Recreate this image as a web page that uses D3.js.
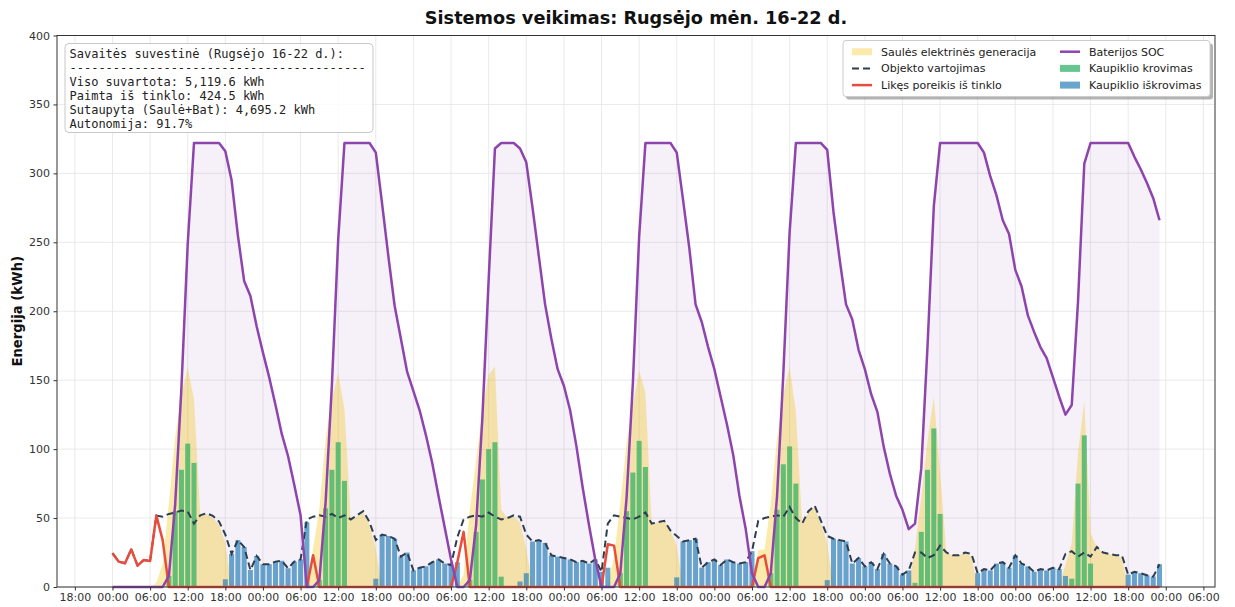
<!DOCTYPE html>
<html>
<head>
<meta charset="utf-8">
<script src="https://d3js.org/d3.v7.min.js"></script>
<style>
body { margin: 0; background: #fff; }
text { font-family: "DejaVu Sans", sans-serif; }
</style>
</head>
<body>
<div id="chart"></div>
<script>
// hourly values, 16-22 Sept (168 hours), one row per day
var consumption = [
  24.5, 18.4, 17.2, 27.3, 15.5, 19.6, 18.9, 51.8, 51, 53, 54, 55.5, 54.7, 46, 52, 53.5, 51.6, 47.5, 38, 24, 34, 29, 12.3, 22.5,
  16.5, 16.5, 18.4, 19, 13.6, 18.4, 20, 49, 51, 52, 51, 53, 50, 52, 49, 52, 55, 47, 34, 38, 37, 35, 22, 25,
  12, 14, 15, 18, 20, 17, 16, 36, 49, 51, 52, 51, 54, 51, 49, 50, 52, 51, 38, 33, 34, 32, 23, 22,
  21, 20, 18, 19, 17, 20, 11, 46, 52, 51, 50, 49, 51, 54, 46, 47, 48, 41, 37, 33, 34, 35, 14, 18,
  20, 16, 20, 18, 17, 18, 26, 48, 50, 51, 52, 51, 58, 50, 46, 55, 59, 48, 37, 35, 34, 33, 17, 21,
  15, 18, 13, 24, 17, 15, 9, 12, 25, 25, 21, 23, 30, 25, 23, 23, 25, 24, 10, 13, 12, 17, 18, 14,
  23, 17, 15, 11, 13, 12, 14, 13, 24, 26, 22, 25, 22, 29, 25, 24, 23, 23, 9, 11, 10, 8.5, 7.5, 16.5
];
var solar = [
  0, 0, 0, 0, 0, 0, 0, 3, 17, 61, 109, 140, 159, 136, 52, 53, 50, 45, 32, 0, 0, 0, 0, 0,
  0, 0, 0, 0, 0, 0, 0, 2, 28, 57, 108, 137, 155, 129, 49, 51, 54, 45, 28, 0, 0, 0, 0, 0,
  0, 0, 0, 0, 0, 0, 0, 0, 9, 56, 92, 129, 154, 160, 56, 50, 51, 47, 28, 0, 0, 0, 0, 0,
  0, 0, 0, 0, 0, 0, 0, 2, 22, 61, 105, 132, 157, 141, 46, 47, 48, 41, 30, 0, 0, 0, 0, 0,
  0, 0, 0, 0, 0, 0, 2, 27, 27, 61, 108, 140, 160, 127, 46, 54, 58, 46, 32, 0, 0, 0, 0, 0,
  0, 0, 0, 0, 0, 0, 0, 2, 28, 65, 106, 138, 83, 25, 23, 23, 25, 22, 0, 0, 0, 0, 0, 0,
  0, 0, 0, 0, 0, 0, 0, 2, 16, 32, 97, 135, 39, 29, 25, 24, 23, 21, 0, 0, 0, 0, 0, 0
];
var gridLeft = [
  24.5, 18.4, 17.2, 27.3, 15.5, 19.6, 18.9, 51.8, 34, 0, 0, 0, 0, 0, 0, 0, 0, 0, 0, 0, 0, 0, 0, 0,
  0, 0, 0, 0, 0, 0, 0, 0, 23, 0, 0, 0, 0, 0, 0, 0, 0, 0, 0, 0, 0, 0, 0, 0,
  0, 0, 0, 0, 0, 0, 0, 18, 40, 0, 0, 0, 0, 0, 0, 0, 0, 0, 0, 0, 0, 0, 0, 0,
  0, 0, 0, 0, 0, 0, 0, 31, 30, 0, 0, 0, 0, 0, 0, 0, 0, 0, 0, 0, 0, 0, 0, 0,
  0, 0, 0, 0, 0, 0, 0, 21, 23, 0, 0, 0, 0, 0, 0, 0, 0, 0, 0, 0, 0, 0, 0, 0,
  0, 0, 0, 0, 0, 0, 0, 0, 0, 0, 0, 0, 0, 0, 0, 0, 0, 0, 0, 0, 0, 0, 0, 0,
  0, 0, 0, 0, 0, 0, 0, 0, 0, 0, 0, 0, 0, 0, 0, 0, 0, 0, 0, 0, 0, 0, 0, 0
];
var soc = [
  0, 0, 0, 0, 0, 0, 0, 0, 0, 8, 60, 145, 249, 322, 322, 322, 322, 322, 316, 295, 255, 222, 211, 189,
  170, 152, 132, 111, 95, 74, 52, 0, 0, 5, 62, 147, 252, 322, 322, 322, 322, 322, 315, 278, 240, 204, 180, 156,
  142, 128, 110, 90, 66, 43, 20, 0, 0, 5, 45, 123, 223, 318, 322, 322, 322, 318, 308, 275, 240, 205, 180, 158,
  146, 128, 102, 72, 45, 20, 0, 0, 0, 10, 65, 148, 254, 322, 322, 322, 322, 322, 315, 281, 246, 205, 192, 174,
  158, 138, 118, 96, 66, 42, 10, 0, 0, 10, 66, 155, 257, 322, 322, 322, 322, 322, 317, 272, 237, 205, 194, 172,
  158, 140, 127, 102, 82, 66, 56, 42, 46, 86, 175, 276, 322, 322, 322, 322, 322, 322, 322, 315, 298, 284, 266, 256,
  230, 218, 197, 185, 174, 166, 152, 138, 125, 132, 207, 307, 322, 322, 322, 322, 322, 322, 322, 312, 303, 293, 282, 266
];
var charge = [
  0, 0, 0, 0, 0, 0, 0, 0, 0, 8, 55, 85, 104, 90, 0, 0, 0, 0, 0, 0, 0, 0, 0, 0,
  0, 0, 0, 0, 0, 0, 0, 0, 0, 5, 57, 85, 105, 77, 0, 0, 0, 0, 0, 0, 0, 0, 0, 0,
  0, 0, 0, 0, 0, 0, 0, 0, 0, 5, 40, 78, 100, 105, 7.5, 0, 0, 0, 0, 0, 0, 0, 0, 0,
  0, 0, 0, 0, 0, 0, 0, 0, 0, 10, 55, 83, 106, 87, 0, 0, 0, 0, 0, 0, 0, 0, 0, 0,
  0, 0, 0, 0, 0, 0, 0, 0, 0, 10, 56, 89, 102, 75, 0, 0, 0, 0, 0, 0, 0, 0, 0, 0,
  0, 0, 0, 0, 0, 0, 0, 0, 3, 40, 85, 115, 53, 0, 0, 0, 0, 0, 0, 0, 0, 0, 0, 0,
  0, 0, 0, 0, 0, 0, 0, 0, 0, 6, 75, 110, 17, 0, 0, 0, 0, 0, 0, 0, 0, 0, 0, 0
];
var discharge = [
  0, 0, 0, 0, 0, 0, 0, 0, 0, 0, 0, 0, 0, 0, 0, 0, 0, 0, 5.6, 24, 34, 29, 12.3, 22.5,
  16.5, 16.5, 18.4, 19, 13.6, 18.4, 20, 47, 0, 0, 0, 0, 0, 0, 0, 0, 0, 0, 6, 38, 37, 35, 22, 25,
  12, 14, 15, 18, 20, 17, 16, 18, 0, 0, 0, 0, 0, 0, 0, 0, 0, 4, 10, 33, 34, 32, 23, 22,
  21, 20, 18, 19, 17, 20, 11, 14, 0, 0, 0, 0, 0, 0, 0, 0, 0, 0, 7, 33, 34, 35, 14, 18,
  20, 16, 20, 18, 17, 18, 26, 0, 0, 0, 0, 0, 0, 0, 0, 0, 0, 0, 5, 35, 34, 33, 17, 21,
  15, 18, 13, 24, 17, 15, 9, 12, 0, 0, 0, 0, 0, 0, 0, 0, 0, 0, 10, 13, 12, 17, 18, 14,
  23, 17, 15, 11, 13, 12, 14, 13, 8, 0, 0, 0, 0, 0, 0, 0, 0, 0, 9, 11, 10, 8.5, 7.5, 16.5
];

var tickLabels = ["18:00","00:00","06:00","12:00","18:00","00:00","06:00","12:00","18:00","00:00","06:00",
  "12:00","18:00","00:00","06:00","12:00","18:00","00:00","06:00","12:00","18:00","00:00","06:00",
  "12:00","18:00","00:00","06:00","12:00","18:00","00:00","06:00"];
var tickHours = d3.range(-6, 175, 6);
var yTicks = [0, 50, 100, 150, 200, 250, 300, 350, 400];

var summaryLines = [
  "Savaitės suvestinė (Rugsėjo 16-22 d.):",
  "-----------------------------------------",
  "Viso suvartota: 5,119.6 kWh",
  "Paimta iš tinklo: 424.5 kWh",
  "Sutaupyta (Saulė+Bat): 4,695.2 kWh",
  "Autonomija: 91.7%"
];

var legendItems = [
  {label: "Saulės elektrinės generacija", kind: "patch", color: "#f1c40f", op: 0.35},
  {label: "Objekto vartojimas", kind: "dash", color: "#2c3e50"},
  {label: "Likęs poreikis iš tinklo", kind: "line", color: "#e74c3c"},
  {label: "Baterijos SOC", kind: "line", color: "#8e44ad"},
  {label: "Kaupiklio krovimas", kind: "patch", color: "#27ae60", op: 0.7},
  {label: "Kaupiklio iškrovimas", kind: "patch", color: "#2980b9", op: 0.7}
];

var hours = d3.range(consumption.length);

var W = 1235, H = 607;
var x = d3.scaleLinear().domain([-8.85, 175.85]).range([57, 1215]);
var y = d3.scaleLinear().domain([0, 400]).range([587, 35.5]);

var svg = d3.select("#chart").append("svg")
  .attr("width", W)
  .attr("height", H);

// grid
var grid = svg.append("g");
grid.selectAll(".gx").data(tickHours).enter().append("line")
  .attr("x1", function(d){ return x(d); }).attr("x2", function(d){ return x(d); })
  .attr("y1", y(0)).attr("y2", y(400))
  .attr("stroke", "#e4e4e4").attr("stroke-width", 0.8);
grid.selectAll(".gy").data(yTicks).enter().append("line")
  .attr("x1", x.range()[0]).attr("x2", x.range()[1])
  .attr("y1", function(d){ return y(d); }).attr("y2", function(d){ return y(d); })
  .attr("stroke", "#e4e4e4").attr("stroke-width", 0.8);

// battery SOC fill
var areaSoc = d3.area()
  .x(function(i){ return x(i); })
  .y0(y(0))
  .y1(function(i){ return y(soc[i]); });
svg.append("path").datum(hours)
  .attr("d", areaSoc)
  .attr("fill", "#8e44ad").attr("fill-opacity", 0.08);

// solar generation fill
var areaSolar = d3.area()
  .x(function(i){ return x(i); })
  .y0(y(0))
  .y1(function(i){ return y(solar[i]); });
svg.append("path").datum(hours)
  .attr("d", areaSolar)
  .attr("fill", "#f1c40f").attr("fill-opacity", 0.34);

// bars
var bw = x(0.8) - x(0);
svg.append("g").selectAll("rect")
  .data(hours.filter(function(i){ return charge[i] > 0; }))
  .enter().append("rect")
  .attr("x", function(i){ return x(i) - bw / 2; })
  .attr("width", bw)
  .attr("y", function(i){ return y(charge[i]); })
  .attr("height", function(i){ return y(0) - y(charge[i]); })
  .attr("fill", "#27ae60").attr("fill-opacity", 0.7);

svg.append("g").selectAll("rect")
  .data(hours.filter(function(i){ return discharge[i] > 0; }))
  .enter().append("rect")
  .attr("x", function(i){ return x(i) - bw / 2; })
  .attr("width", bw)
  .attr("y", function(i){ return y(discharge[i]); })
  .attr("height", function(i){ return y(0) - y(discharge[i]); })
  .attr("fill", "#2980b9").attr("fill-opacity", 0.7);

// lines
function lineOf(arr) {
  return d3.line().x(function(i){ return x(i); }).y(function(i){ return y(arr[i]); });
}
svg.append("path").datum(hours)
  .attr("d", lineOf(consumption))
  .attr("fill", "none").attr("stroke", "#2c3e50")
  .attr("stroke-width", 2).attr("stroke-dasharray", "7,4");
svg.append("path").datum(hours)
  .attr("d", lineOf(gridLeft))
  .attr("fill", "none").attr("stroke", "#e74c3c")
  .attr("stroke-width", 2.5).attr("stroke-linejoin", "round");
svg.append("path").datum(hours)
  .attr("d", lineOf(soc))
  .attr("fill", "none").attr("stroke", "#8e44ad")
  .attr("stroke-width", 2.5).attr("stroke-linejoin", "round");

// axes
var xAxis = d3.axisBottom(x).tickValues(tickHours)
  .tickFormat(function(d, i){ return tickLabels[i]; })
  .tickSize(3.5).tickPadding(3);
var gx = svg.append("g").attr("transform", "translate(0," + y(0) + ")").call(xAxis);
var yAxis = d3.axisLeft(y).tickValues(yTicks).tickSize(3.5).tickPadding(3.5);
var gy = svg.append("g").attr("transform", "translate(" + x.range()[0] + ",0)").call(yAxis);
[gx, gy].forEach(function(g){
  g.select(".domain").remove();
  g.selectAll("line").attr("stroke", "#333");
  g.selectAll("text").attr("fill", "#333").style("font-size", "11px").style("font-family", "DejaVu Sans");
});

// spines
svg.append("rect")
  .attr("x", x.range()[0]).attr("y", y(400))
  .attr("width", x.range()[1] - x.range()[0]).attr("height", y(0) - y(400))
  .attr("fill", "none").attr("stroke", "#333").attr("stroke-width", 1);

// title + y label
svg.append("text")
  .attr("x", (x.range()[0] + x.range()[1]) / 2).attr("y", 24)
  .attr("text-anchor", "middle")
  .style("font-size", "17.7px").style("font-weight", "bold").attr("fill", "#111")
  .text("Sistemos veikimas: Rugsėjo mėn. 16-22 d.");
svg.append("text")
  .attr("transform", "translate(22," + ((y(0) + y(400)) / 2) + ") rotate(-90)")
  .attr("text-anchor", "middle")
  .style("font-size", "13.2px").style("font-weight", "bold").attr("fill", "#111")
  .text("Energija (kWh)");

// summary box
svg.append("rect")
  .attr("x", 65).attr("y", 43.5).attr("width", 308).attr("height", 89).attr("rx", 4)
  .attr("fill", "#fff").attr("fill-opacity", 0.85)
  .attr("stroke", "#c8c8c8").attr("stroke-width", 1);
svg.append("g").selectAll("text").data(summaryLines).enter().append("text")
  .attr("x", 69.5)
  .attr("y", function(d, i){ return 57.5 + i * 14.1; })
  .style("font-family", "DejaVu Sans Mono").style("font-size", "12px")
  .attr("fill", "#222")
  .text(function(d){ return d; });

// legend
var lg = svg.append("g");
lg.append("rect").attr("x", 846).attr("y", 43.5).attr("width", 367).attr("height", 56).attr("rx", 3)
  .attr("fill", "#808080").attr("fill-opacity", 0.6);
lg.append("rect").attr("x", 843).attr("y", 40.5).attr("width", 367).attr("height", 56).attr("rx", 3)
  .attr("fill", "#fff").attr("stroke", "#cccccc").attr("stroke-width", 1);
legendItems.forEach(function(it, i){
  var col = Math.floor(i / 3), row = i % 3;
  var px = col === 0 ? 852 : 1060;
  var cy = 51.7 + row * 16.7;
  if (it.kind === "patch") {
    lg.append("rect").attr("x", px).attr("y", cy - 3.5).attr("width", 20).attr("height", 7)
      .attr("fill", it.color).attr("fill-opacity", it.op);
  } else {
    lg.append("line").attr("x1", px).attr("x2", px + 20).attr("y1", cy).attr("y2", cy)
      .attr("stroke", it.color).attr("stroke-width", it.kind === "dash" ? 2 : 2.5)
      .attr("stroke-dasharray", it.kind === "dash" ? "7,4" : null);
  }
  lg.append("text").attr("x", px + 29).attr("y", cy + 4)
    .style("font-size", "11px").attr("fill", "#222")
    .text(it.label);
});
</script>
</body>
</html>
